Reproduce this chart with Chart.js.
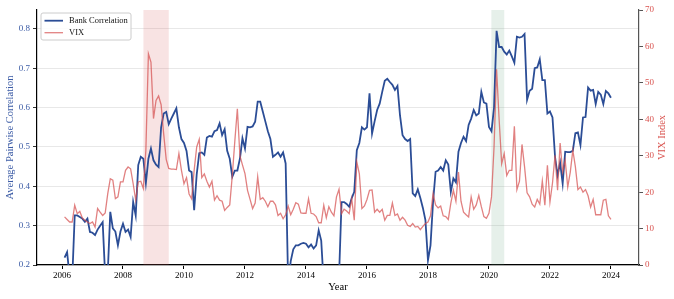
<!DOCTYPE html>
<html>
<head>
<meta charset="utf-8">
<script src="https://cdn.jsdelivr.net/npm/chart.js@4.4.1/dist/chart.umd.min.js"></script>
<style>
  html, body { margin: 0; padding: 0; background: #fff; }
</style>
</head>
<body>
<canvas id="chart" width="674" height="299"></canvas>
<script>
// monthly series, first point = Feb 2006, last point = Jan 2024
const startYear = 2006;
const startMonth = 2;

const bankCorr = [
  0.219, 0.233, 0.17, 0.16, 0.326, 0.326, 0.322, 0.318, 0.31, 0.318, 0.284,
  0.282, 0.276, 0.29, 0.30, 0.309, 0.17, 0.18, 0.335, 0.293, 0.285, 0.25, 0.285,
  0.305, 0.284, 0.29, 0.271, 0.36, 0.326, 0.454, 0.475, 0.47, 0.408, 0.47, 0.496,
  0.466, 0.455, 0.449, 0.55, 0.585, 0.589, 0.558, 0.572, 0.585, 0.598, 0.55, 0.52,
  0.51, 0.49, 0.44, 0.436, 0.339, 0.43, 0.484, 0.486, 0.48, 0.524, 0.528, 0.526,
  0.54, 0.543, 0.56, 0.53, 0.545, 0.49, 0.47, 0.424, 0.44, 0.44, 0.47, 0.522,
  0.496, 0.551, 0.55, 0.552, 0.564, 0.615, 0.615, 0.59, 0.565, 0.54, 0.52, 0.475,
  0.48, 0.486, 0.475, 0.486, 0.458, 0.15, 0.21, 0.24, 0.25, 0.25, 0.254, 0.256,
  0.254, 0.245, 0.252, 0.242, 0.25, 0.288, 0.262, 0.15, 0.12, 0.10, 0.12, 0.14,
  0.15, 0.17, 0.36, 0.36, 0.355, 0.348, 0.37, 0.386, 0.492, 0.51, 0.55, 0.544,
  0.55, 0.636, 0.534, 0.565, 0.594, 0.61, 0.64, 0.668, 0.673, 0.665, 0.658, 0.645,
  0.655, 0.58, 0.53, 0.52, 0.515, 0.52, 0.382, 0.375, 0.392, 0.37, 0.345, 0.314,
  0.212, 0.25, 0.36, 0.437, 0.44, 0.449, 0.44, 0.466, 0.455, 0.386, 0.42, 0.41,
  0.488, 0.51, 0.526, 0.515, 0.556, 0.572, 0.594, 0.58, 0.585, 0.64, 0.613, 0.61,
  0.551, 0.54, 0.6, 0.795, 0.754, 0.754, 0.742, 0.735, 0.745, 0.73, 0.714, 0.78,
  0.778, 0.78, 0.787, 0.62, 0.643, 0.648, 0.70, 0.702, 0.723, 0.67, 0.67, 0.585,
  0.59, 0.575, 0.475, 0.428, 0.46, 0.407, 0.488, 0.487, 0.487, 0.49, 0.535, 0.537,
  0.505, 0.575, 0.576, 0.651, 0.643, 0.645, 0.609, 0.64, 0.633, 0.609, 0.642, 0.636,
  0.625
];

const vix = [
  13.2, 12.5, 11.8, 11.8, 16.4, 14.1, 14.7, 12.9, 12.3, 11.8, 11.4,
  11.8, 10.4, 15.5, 14.5, 13.6, 14.3, 19.6, 23.7, 23.3, 18.2, 18.7, 22.8,
  22.8, 26, 26.9, 26.4, 22.3, 17.8, 22.8, 23, 21, 31.5, 58, 55.7,
  40.2, 45.2, 46.4, 44, 36, 29, 26.5, 26.3, 26.3, 26.2, 30.6, 26,
  22.3, 24, 19.5, 18.2, 26, 32.4, 34.5, 24, 25, 23, 21.4, 23,
  17.8, 19, 17.8, 17.5, 15, 15.8, 16.5, 24.5, 34, 42.9, 30, 27.5,
  25.1, 20.5, 18, 15.5, 17, 24.2, 18, 18.5, 17.5, 16, 17.5, 17.5,
  16.5, 13.6, 14.2, 12.7, 13.8, 16.2, 13.8, 15.3, 17.1, 16.7, 14.3, 14.2,
  14.2, 18.2, 14.2, 14.0, 13.3, 11.6, 11.6, 16.4, 13, 16, 14.5, 13.5,
  18.7, 20.8, 14.1, 15.3, 14.8, 14.1, 18.2, 12.3, 28.3, 25, 15.5, 16.2,
  18, 20.5, 20.6, 14.5, 15.3, 14.5, 15.3, 12.3, 13.6, 13.6, 17, 13.6,
  14, 12.3, 13.1, 12.3, 10.9, 10.6, 11.4, 10.4, 10.6, 9.7, 10.6, 11.4,
  11.8, 13.5, 19.6, 16.5, 15.7, 16.2, 13.5, 13.3, 12.5, 17, 20.5, 17.5,
  25.5, 17.5, 14.5, 13.8, 13.2, 18.7, 15.3, 16.5, 19.1, 16, 13.3, 12.8,
  14.2, 18.7, 32.4, 53.7, 40, 27.8, 30.6, 24.6, 26, 26, 38.1, 20.7,
  23, 33.1, 27, 19.8, 18.7, 16.7, 15.9, 18, 16.7, 23.1, 16.4, 27.4,
  17.3, 22.5, 30.1, 20.5, 33.5, 25.5, 28.7, 21.4, 25.5, 31.5, 27, 20.7,
  21.4, 20, 20.7, 19, 15.9, 18, 13.8, 13.8, 13.8, 17.8, 18, 13.5,
  12.5
];

const yearTicks = [2006, 2008, 2010, 2012, 2014, 2016, 2018, 2020, 2022, 2024];
const corrTicks = [0.2, 0.3, 0.4, 0.5, 0.6, 0.7, 0.8];

// crisis periods [start, end] in decimal years
const crisisRed = [2008.67, 2009.5];
const crisisGreen = [2020.08, 2020.5];

const blue = "#2b4d96";
const red = "rgba(214, 80, 80, 0.72)";
const redText = "#d9534f";
const serif = "'Liberation Serif', 'DejaVu Serif', serif";

const dateOf = (i) => startYear + (startMonth - 1 + i) / 12;
const corrPoints = bankCorr.map((v, i) => ({ x: dateOf(i), y: v }));
const vixPoints = vix.map((v, i) => ({ x: dateOf(i), y: v }));

// shaded crisis bands
const bands = {
  id: "bands",
  beforeDatasetsDraw(chart) {
    const { ctx, chartArea, scales } = chart;
    const fill = (p, color) => {
      const x0 = scales.x.getPixelForValue(p[0]);
      const x1 = scales.x.getPixelForValue(p[1]);
      ctx.fillStyle = color;
      ctx.fillRect(x0, chartArea.top, x1 - x0, chartArea.bottom - chartArea.top);
    };
    ctx.save();
    fill(crisisRed, "rgba(214, 90, 90, 0.17)");
    fill(crisisGreen, "rgba(90, 155, 115, 0.15)");
    ctx.restore();
  }
};

// right axis title, read bottom to top like matplotlib
const vixTitle = {
  id: "vixTitle",
  afterDraw(chart) {
    const { ctx, chartArea } = chart;
    ctx.save();
    ctx.translate(chartArea.right + 23, (chartArea.top + chartArea.bottom) / 2);
    ctx.rotate(-Math.PI / 2);
    ctx.fillStyle = redText;
    ctx.font = "10.5px " + serif;
    ctx.textAlign = "center";
    ctx.textBaseline = "middle";
    ctx.fillText("VIX Index", 0, 0);
    ctx.restore();
  }
};

// matplotlib-like legend box in the upper left
const boxLegend = {
  id: "boxLegend",
  afterDraw(chart) {
    const { ctx, chartArea } = chart;
    const x = chartArea.left + 4, y = chartArea.top + 3;
    ctx.save();
    ctx.beginPath();
    ctx.roundRect(x, y, 90, 27, 2);
    ctx.fillStyle = "rgba(255,255,255,0.85)";
    ctx.fill();
    ctx.strokeStyle = "#cccccc";
    ctx.lineWidth = 1;
    ctx.stroke();
    const items = [["Bank Correlation", blue, 1.8], ["VIX", red, 1.3]];
    items.forEach(([label, color, w], i) => {
      const ly = y + 7.7 + i * 12;
      ctx.beginPath();
      ctx.moveTo(x + 3.5, ly);
      ctx.lineTo(x + 22, ly);
      ctx.strokeStyle = color;
      ctx.lineWidth = w;
      ctx.stroke();
      ctx.fillStyle = "#111";
      ctx.font = "8.5px " + serif;
      ctx.textBaseline = "middle";
      ctx.fillText(label, x + 28, ly + 0.5);
    });
    ctx.restore();
  }
};

new Chart(document.getElementById("chart"), {
  type: "line",
  data: {
    datasets: [
      {
        label: "VIX",
        data: vixPoints,
        yAxisID: "y1",
        borderColor: red,
        borderWidth: 1.3,
        pointRadius: 0,
        tension: 0,
        clip: 0,
        order: 0
      },
      {
        label: "Bank Correlation",
        data: corrPoints,
        yAxisID: "y",
        borderColor: blue,
        borderWidth: 1.8,
        pointRadius: 0,
        tension: 0,
        clip: 0,
        order: 1
      }
    ]
  },
  options: {
    responsive: false,
    animation: false,
    layout: { padding: { top: 10, left: 0, right: 0, bottom: 0 } },
    plugins: {
      legend: { display: false },
      tooltip: { enabled: false }
    },
    scales: {
      x: {
        type: "linear",
        min: 2005.18,
        max: 2024.92,
        afterBuildTicks(s) { s.ticks = yearTicks.map((v) => ({ value: v })); },
        afterFit(s) { s.height = 34; },
        ticks: {
          autoSkip: false,
          maxRotation: 0,
          padding: 1,
          color: "#000",
          font: { family: serif, size: 9 },
          callback: (v) => String(v)
        },
        grid: { drawOnChartArea: false, tickLength: 4, tickColor: "#000" },
        border: { color: "#000", width: 1.2 },
        title: {
          display: true,
          text: "Year",
          color: "#000",
          font: { family: serif, size: 10.5 },
          padding: { top: 0, bottom: 5 }
        }
      },
      y: {
        position: "left",
        min: 0.2,
        max: 0.848,
        afterBuildTicks(s) { s.ticks = corrTicks.map((v) => ({ value: v })); },
        afterFit(s) { s.width = 37; },
        ticks: {
          padding: 3,
          color: "#3b5ba5",
          font: { family: serif, size: 9 },
          callback: (v) => v.toFixed(1)
        },
        grid: {
          color: "#e2e2e2",
          lineWidth: 0.8,
          borderDash: [3, 2],
          tickLength: 4,
          tickColor: "#000",
          tickBorderDash: []
        },
        border: { color: "#000", width: 1.2 },
        title: {
          display: true,
          text: "Average Pairwise Correlation",
          color: "#3b5ba5",
          font: { family: serif, size: 10.5 },
          padding: { top: 4, bottom: 0 }
        }
      },
      y1: {
        position: "right",
        min: 0,
        max: 70,
        afterFit(s) { s.width = 35; },
        ticks: {
          stepSize: 10,
          padding: 2,
          color: redText,
          font: { family: serif, size: 9 }
        },
        grid: { drawOnChartArea: false, tickLength: 4, tickColor: "#555" },
        border: { color: "#555", width: 1.2 },
        title: { display: false }
      }
    }
  },
  plugins: [bands, vixTitle, boxLegend]
});
</script>
</body>
</html>
